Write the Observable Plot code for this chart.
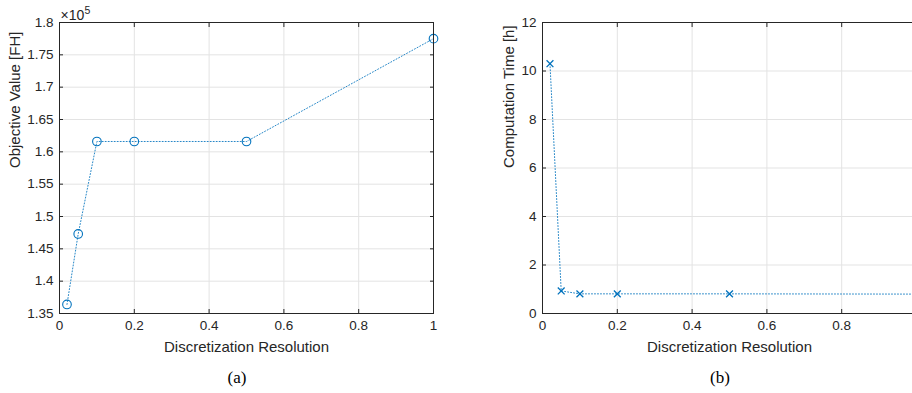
<!DOCTYPE html>
<html><head><meta charset="utf-8">
<script src="https://cdn.jsdelivr.net/npm/d3@7"></script>
<script src="https://cdn.jsdelivr.net/npm/@observablehq/plot@0.6"></script>
<style>
html,body{margin:0;padding:0;background:#fff;}
#wrap{position:relative;width:912px;height:393px;overflow:hidden;}
.panel{position:absolute;top:0;}
.cap{position:absolute;top:368px;font-family:"Liberation Serif","Times New Roman",serif;font-size:17px;color:#000;transform:translateX(-50%);}
</style></head><body><div id="wrap"></div>
<script>
// ---- data ----
const resolution = [0.02, 0.05, 0.1, 0.2, 0.5, 1];
const objectiveValue = [136400, 147300, 161600, 161600, 161600, 177500];
const computationTime = [10.3, 0.93, 0.81, 0.81, 0.81, 0.8];
const xTicks = [0, 0.2, 0.4, 0.6, 0.8, 1];
const xTickLabelsRight = [0, 0.2, 0.4, 0.6, 0.8]; // the "1" label falls outside the visible window
const objTicks = [135000, 140000, 145000, 150000, 155000, 160000, 165000, 170000, 175000, 180000];
const timeTicks = [0, 2, 4, 6, 8, 10, 12];
const xLabel = "Discretization Resolution";
const objLabel = "Objective Value [FH]";
const timeLabel = "Computation Time [h]";
const exponentBase = "×10";
const exponentPower = "5";
const captions = ["(a)", "(b)"];

const BLUE = "#0072BD", AX = "#262626", GRID = "#e3e3e3";
const FONT = "Liberation Sans, Arial, sans-serif";

function panel({values, yDomain, yTicks, yFormat, yLabel, yLabelDx, kind, width, marginLeft, exponent, xLabelTicks}) {
  const data = resolution.map((x, i) => ({x, y: values[i]}));
  const marks = [
    Plot.gridX(xTicks, {stroke: GRID, strokeOpacity: 1}),
    Plot.gridY(yTicks, {stroke: GRID, strokeOpacity: 1}),
    Plot.line(data, {x: "x", y: "y", stroke: BLUE, strokeWidth: 1, strokeDasharray: "1,2", strokeOpacity: 0.85}),
    kind === "circle"
      ? Plot.dot(data, {x: "x", y: "y", symbol: "circle", r: 4.3, stroke: BLUE, fill: "none", strokeWidth: 1.1})
      : Plot.dot(data, {x: "x", y: "y", symbol: "times", r: 3.2, stroke: BLUE, strokeWidth: 1.3}),
    Plot.frame({stroke: AX, strokeWidth: 1}),
    // inward ticks on all four sides
    Plot.axisX(xTicks, {anchor: "bottom", tickSize: -4, fill: "none", stroke: AX, label: null}),
    Plot.axisX(xTicks, {anchor: "top", tickSize: -4, fill: "none", stroke: AX, label: null}),
    Plot.axisY(yTicks, {anchor: "left", tickSize: -4, fill: "none", stroke: AX, label: null}),
    Plot.axisY(yTicks, {anchor: "right", tickSize: -4, fill: "none", stroke: AX, label: null}),
    // tick labels
    Plot.axisX(xLabelTicks, {anchor: "bottom", tickSize: 0, tickPadding: 7, tickFormat: d => String(d), fill: AX, fontSize: 13.5, label: null}),
    Plot.axisY(yTicks, {anchor: "left", tickSize: 0, tickPadding: 6, tickFormat: yFormat, fill: AX, fontSize: 13.5, label: null}),
    // axis titles
    Plot.text([xLabel], {frameAnchor: "bottom", text: d => d, dy: 34, fill: AX, fontSize: 15, lineAnchor: "middle"}),
    Plot.text([yLabel], {frameAnchor: "left", text: d => d, dx: yLabelDx, rotate: -90, fill: AX, fontSize: 15, lineAnchor: "middle"})
  ];
  if (exponent) {
    marks.push(
      Plot.text([exponentBase], {frameAnchor: "top-left", text: d => d, textAnchor: "start", lineAnchor: "bottom", dx: 1, dy: -3, fill: AX, fontSize: 14}),
      Plot.text([exponentPower], {frameAnchor: "top-left", text: d => d, textAnchor: "start", lineAnchor: "bottom", dx: 25, dy: -9, fill: AX, fontSize: 10.5})
    );
  }
  return Plot.plot({
    width, height: 393,
    marginLeft, marginRight: width - marginLeft - 374, marginTop: 22, marginBottom: 393 - 313,
    style: {fontFamily: FONT, background: "transparent", overflow: "visible", color: AX},
    x: {type: "linear", domain: [0, 1]},
    y: {type: "linear", domain: yDomain},
    marks
  });
}

const wrap = document.getElementById("wrap");
const left = panel({values: objectiveValue, yDomain: [135000, 180000], yTicks: objTicks,
  yFormat: d => d3.format("~g")(d / 1e5), yLabel: objLabel, yLabelDx: -44, kind: "circle",
  width: 456, marginLeft: 59, exponent: true, xLabelTicks: xTicks});
const right = panel({values: computationTime, yDomain: [0, 12], yTicks: timeTicks,
  yFormat: d => String(d), yLabel: timeLabel, yLabelDx: -33, kind: "times",
  width: 476, marginLeft: 82, exponent: false, xLabelTicks: xTickLabelsRight});
left.classList.add("panel"); left.style.left = "0px";
right.classList.add("panel"); right.style.left = "460px";
wrap.appendChild(left); wrap.appendChild(right);
[[captions[0], 237], [captions[1], 720]].forEach(([t, x]) => {
  const d = document.createElement("div");
  d.className = "cap"; d.textContent = t; d.style.left = x + "px";
  wrap.appendChild(d);
});
</script></body></html>
